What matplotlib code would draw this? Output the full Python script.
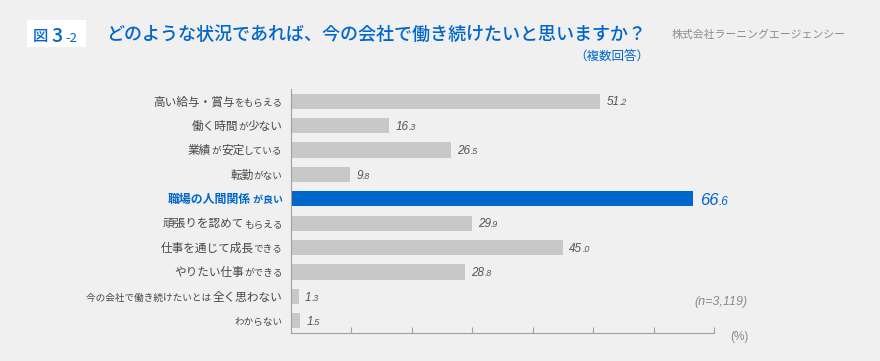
import matplotlib.pyplot as plt
from matplotlib.patches import Rectangle

JP = ["Noto Sans CJK JP", "DejaVu Sans"]
NUM = ["Liberation Sans", "DejaVu Sans"]

BG = "#f0f0f0"
BLUE = "#0066cc"
GREY_BAR = "#c8c8c8"
LABEL_GREY = "#474747"
VALUE_GREY = "#555555"

# label pieces: (text, is_large)
label_parts = [
    [("高い給与・賞与", True), ("をもらえる", False)],
    [("働く時間", True), ("が", False), ("少ない", True)],
    [("業績", True), ("が", False), ("安定", True), ("している", False)],
    [("転勤", True), ("がない", False)],
    [("職場の人間関係", True), (" が良い", False)],
    [("頑張りを認めて", True), ("もらえる", False)],
    [("仕事を通じて成長", True), ("できる", False)],
    [("やりたい仕事", True), ("ができる", False)],
    [("今の会社で働き続けたいとは ", False), ("全く思わない", True)],
    [("わからない", False)],
]
values = [51.2, 16.3, 26.5, 9.8, 66.6, 29.9, 45.0, 28.8, 1.3, 1.5]
highlight = 4
x_ticks = [10, 20, 30, 40, 50, 60, 70]

title = "どのような状況であれば、今の会社で働き続けたいと思いますか？"
subtitle = "（複数回答）"
fig_no = ("図", "3", "-2")
company = "株式会社ラーニングエージェンシー"
sample_note = "(n=3,119)"
unit = "(%)"

W, H = 880, 361
fig = plt.figure(figsize=(W / 100, H / 100), dpi=100, facecolor=BG)
ax = fig.add_axes([291 / W, 1 - 333 / H, (714 - 291) / W, (333 - 89) / H])
ax.set_facecolor("none")
renderer = fig.canvas.get_renderer()


def width_pt(artist):
    return artist.get_window_extent(renderer).width * 72 / fig.dpi


n = len(values)
colors = [BLUE if i == highlight else GREY_BAR for i in range(n)]
ax.barh(range(n), values, height=0.62, color=colors, zorder=2)
ax.set_ylim(n - 0.5, -0.5)
ax.set_xlim(0, 70)
ax.set_xticks(x_ticks)
ax.set_xticklabels([])
ax.set_yticks([])
ax.tick_params(axis="x", direction="in", length=4, color="#a0a0a0", width=0.8)
for side in ("top", "right"):
    ax.spines[side].set_visible(False)
for side in ("left", "bottom"):
    ax.spines[side].set_color("#a0a0a0")
    ax.spines[side].set_linewidth(0.8)

# category labels, laid out right to left on a shared baseline
for i, parts in enumerate(label_parts):
    hl = i == highlight
    col = BLUE if hl else LABEL_GREY
    weight = "bold" if hl else "normal"
    x = -6.0
    for text, large in reversed(parts):
        size = 8.4 if large else 6.9
        if hl:
            size += 0.2
        t = ax.annotate(text, xy=(0, i), xycoords=("axes fraction", "data"),
                        xytext=(x, -3), textcoords="offset points",
                        ha="right", va="baseline", fontsize=size, family=JP,
                        color=col, fontweight=weight, annotation_clip=False)
        x -= width_pt(t)

# value labels: integer part large, decimal part small
for i, v in enumerate(values):
    hl = i == highlight
    whole, dec = f"{v:.1f}".split(".")
    big, small = (12, 8.5) if hl else (8.5, 6.3)
    col = BLUE if hl else VALUE_GREY
    dy = -4.5 if hl else -3
    t = ax.annotate(whole, xy=(v, i), xytext=(4.5, dy),
                    textcoords="offset points", ha="left", va="baseline",
                    fontsize=big, family=NUM, style="italic", color=col,
                    annotation_clip=False)
    ax.annotate("." + dec, xy=(v, i), xytext=(4.5 + width_pt(t), dy),
                textcoords="offset points", ha="left", va="baseline",
                fontsize=small, family=NUM, style="italic", color=col,
                annotation_clip=False)

fig.text(748 / W, 1 - 302 / H, sample_note, ha="right", va="center",
         fontsize=9, family=NUM, style="italic", color="#8a8a8a")
fig.text(749 / W, 1 - 337 / H, unit, ha="right", va="center",
         fontsize=8.5, family=NUM, color="#8a8a8a")

# header
fig.add_artist(Rectangle((27 / W, 1 - 47 / H), 59 / W, 27 / H,
                         transform=fig.transFigure, facecolor="white",
                         edgecolor="none", zorder=-1))
base = 1 - 41.5 / H
fig.text(33 / W, base, fig_no[0], ha="left", va="baseline",
         fontsize=11, family=JP, color=BLUE, fontweight="medium")
fig.text(51 / W, base, fig_no[1], ha="left", va="baseline",
         fontsize=14, family=JP, color=BLUE, fontweight="medium")
fig.text(65 / W, base, fig_no[2], ha="left", va="baseline",
         fontsize=9.5, family=JP, color=BLUE)
fig.text(106 / W, 1 - 35 / H, title, ha="left", va="center",
         fontsize=13, family=JP, color=BLUE, fontweight="medium")
fig.text(649 / W, 1 - 56 / H, subtitle, ha="right", va="center",
         fontsize=9, family=JP, color=BLUE)
fig.text(672 / W, 1 - 35 / H, company, ha="left", va="center",
         fontsize=7.8, family=JP, color="#8c8c8c")

fig.savefig("out.png", dpi=100, facecolor=BG)
